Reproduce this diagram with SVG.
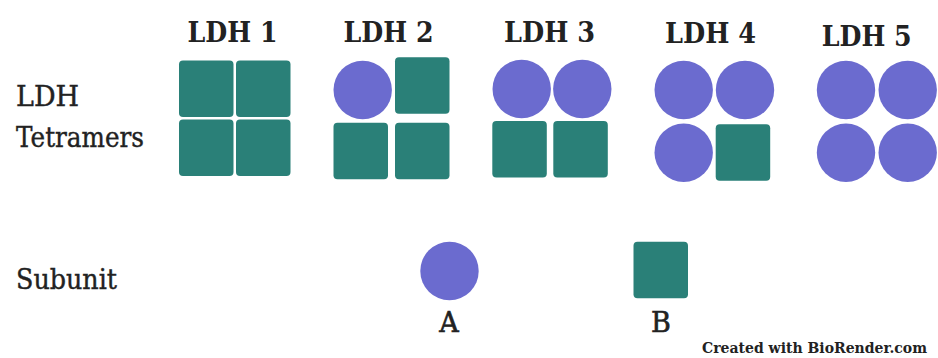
<svg xmlns="http://www.w3.org/2000/svg" width="938" height="358" viewBox="0 0 938 358">
  <style>
    .title { font-family: "DejaVu Serif", "Liberation Serif", serif; font-weight: bold; font-size: 27px; fill: #222; text-anchor: middle; }
    .label { font-family: "DejaVu Serif", "Liberation Serif", serif; font-size: 27px; fill: #222; stroke: #222; stroke-width: 0.4px; }
    .letter { font-family: "DejaVu Serif", "Liberation Serif", serif; font-size: 27px; fill: #222; stroke: #222; stroke-width: 0.6px; text-anchor: middle; }
    .credit { font-family: "DejaVu Serif Condensed", "DejaVu Serif", serif; font-weight: bold; font-size: 15px; fill: #222; }
    .B { fill: #2a8078; }
    .A { fill: #6b6bcf; }
  </style>
  <defs>
    <rect id="sqB" class="B" x="0" y="0" width="54.5" height="56.5" rx="4" ry="4"/>
    <circle id="cA" class="A" r="29.2"/>
  </defs>
  <rect width="938" height="358" fill="#fff"/>

  <!-- row labels -->
  <g id="row-labels">
    <text class="label" x="16" y="106">LDH</text>
    <text class="label" x="16" y="147" textLength="128" lengthAdjust="spacingAndGlyphs">Tetramers</text>
    <text class="label" x="16" y="289" textLength="101" lengthAdjust="spacingAndGlyphs">Subunit</text>
  </g>

  <g id="ldh1">
    <text class="title" x="232.5" y="42" textLength="90" lengthAdjust="spacingAndGlyphs">LDH 1</text>
    <use href="#sqB" x="179" y="60.5"/>
    <use href="#sqB" x="236" y="60.5"/>
    <use href="#sqB" x="179" y="119.5"/>
    <use href="#sqB" x="236" y="119.5"/>
  </g>

  <g id="ldh2">
    <text class="title" x="388.5" y="42" textLength="90" lengthAdjust="spacingAndGlyphs">LDH 2</text>
    <use href="#cA" x="362.7" y="90"/>
    <use href="#sqB" x="395" y="57.3"/>
    <use href="#sqB" x="333.5" y="122.7"/>
    <use href="#sqB" x="395" y="122.7"/>
  </g>

  <g id="ldh3">
    <text class="title" x="549.5" y="42" textLength="91" lengthAdjust="spacingAndGlyphs">LDH 3</text>
    <use href="#cA" x="521.7" y="89"/>
    <use href="#cA" x="582.3" y="89"/>
    <use href="#sqB" x="492.3" y="121"/>
    <use href="#sqB" x="553.3" y="121"/>
  </g>

  <g id="ldh4">
    <text class="title" x="710.5" y="42.5" textLength="91" lengthAdjust="spacingAndGlyphs">LDH 4</text>
    <use href="#cA" x="683.7" y="90"/>
    <use href="#cA" x="745" y="90"/>
    <use href="#cA" x="683.7" y="152.7"/>
    <use href="#sqB" x="715.7" y="124.3"/>
  </g>

  <g id="ldh5">
    <text class="title" x="866.7" y="46" textLength="90" lengthAdjust="spacingAndGlyphs">LDH 5</text>
    <use href="#cA" x="846" y="90"/>
    <use href="#cA" x="907.7" y="90"/>
    <use href="#cA" x="846" y="152.7"/>
    <use href="#cA" x="907.7" y="152.7"/>
  </g>

  <g id="subunit-a">
    <use href="#cA" x="449.5" y="271"/>
    <text class="letter" x="449" y="332">A</text>
  </g>

  <g id="subunit-b">
    <use href="#sqB" x="633.5" y="241.7"/>
    <text class="letter" x="661" y="332">B</text>
  </g>

  <g id="connectors"></g>

  <text class="credit" x="702" y="353" textLength="225" lengthAdjust="spacingAndGlyphs">Created with BioRender.com</text>
</svg>
